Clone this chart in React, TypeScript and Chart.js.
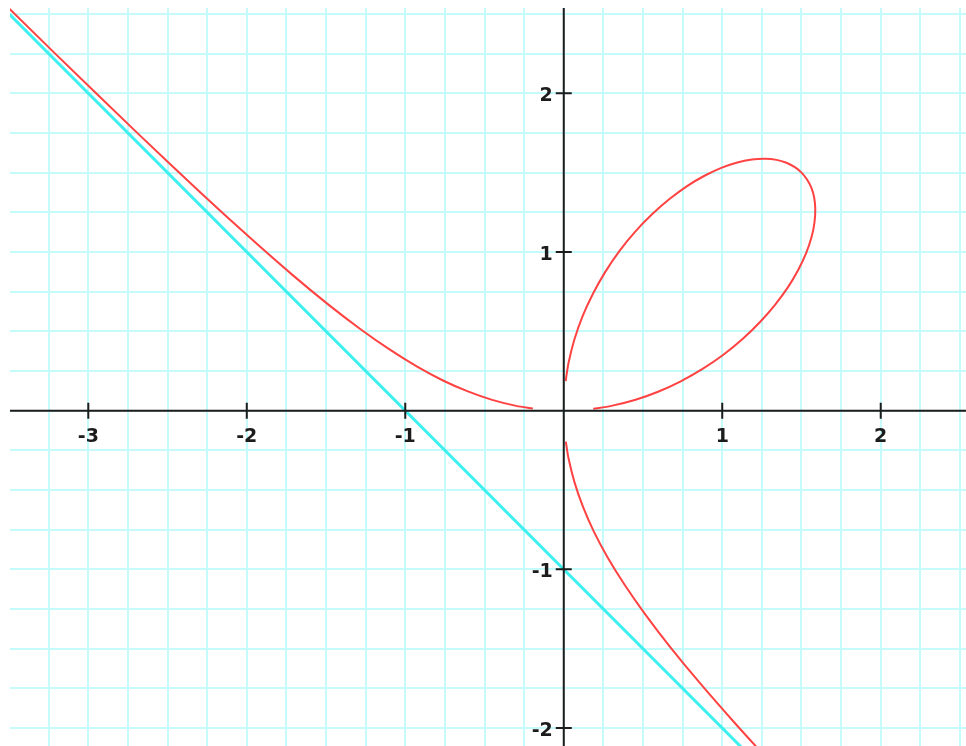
import { useEffect, useRef } from 'react';
import { Chart, registerables } from 'chart.js';

Chart.register(...registerables);

// Folium of Descartes  x³ + y³ = 3xy, sampled along its three visible pieces.
// Upper-left branch, from near the origin out to the top-left corner.
const leftBranchX = [-0.195, -0.3, -0.452, -0.605, -0.762, -0.925, -1.097, -1.282, -1.485, -1.714, -1.979, -2.296, -2.688, -3.196, -3.892];
const leftBranchY = [0.013, 0.03, 0.068, 0.121, 0.19, 0.277, 0.384, 0.513, 0.668, 0.857, 1.089, 1.378, 1.747, 2.237, 2.919];

// The closed loop in the first quadrant.
const loopX = [0.186, 0.3, 0.448, 0.595, 0.738, 0.876, 1.007, 1.128, 1.237, 1.333, 1.415, 1.48, 1.53, 1.564, 1.582, 1.587, 1.58, 1.562, 1.534, 1.5, 1.458, 1.405, 1.343, 1.27, 1.187, 1.095, 0.994, 0.888, 0.778, 0.667, 0.557, 0.451, 0.352, 0.263, 0.185, 0.119, 0.067, 0.03, 0.012];
const loopY = [0.012, 0.03, 0.067, 0.119, 0.185, 0.263, 0.352, 0.451, 0.557, 0.667, 0.778, 0.888, 0.994, 1.095, 1.187, 1.27, 1.343, 1.405, 1.458, 1.5, 1.534, 1.562, 1.58, 1.587, 1.582, 1.564, 1.53, 1.48, 1.415, 1.333, 1.237, 1.128, 1.007, 0.876, 0.738, 0.595, 0.448, 0.3, 0.186];

// Lower-right branch, from near the origin down past the bottom edge.
const lowerBranchX = [0.013, 0.03, 0.068, 0.121, 0.19, 0.277, 0.384, 0.513, 0.668, 0.857, 1.089, 1.378];
const lowerBranchY = [-0.195, -0.3, -0.452, -0.605, -0.762, -0.925, -1.097, -1.282, -1.485, -1.714, -1.979, -2.296];

// Asymptote  x + y + 1 = 0.
const asymptoteX = [-3.7, 1.4];
const asymptoteY = [2.7, -2.4];

// Labelled integer ticks on the crossing axes.
const xTickValues = [-3, -2, -1, 1, 2];
const yTickValues = [2, 1, -1, -2];

// Spacing of the background grid.
const gridStep = 0.25;

const zip = (xs: number[], ys: number[]) => xs.map((x, i) => ({ x, y: ys[i] }));

const INK = '#1c1c1c';

const crossAxesPlugin = {
  id: 'crossAxes',
  afterDatasetsDraw(chart: any) {
    const { ctx, chartArea: area, scales } = chart;
    const sx = scales.x;
    const sy = scales.y;
    const x0 = sx.getPixelForValue(0);
    const y0 = sy.getPixelForValue(0);
    ctx.save();
    ctx.strokeStyle = INK;
    ctx.lineWidth = 2;
    ctx.beginPath();
    ctx.moveTo(area.left, y0);
    ctx.lineTo(area.right, y0);
    ctx.moveTo(x0, area.top);
    ctx.lineTo(x0, area.bottom);
    xTickValues.forEach((v) => {
      const px = sx.getPixelForValue(v);
      ctx.moveTo(px, y0 - 8);
      ctx.lineTo(px, y0 + 8);
    });
    yTickValues.forEach((v) => {
      const py = sy.getPixelForValue(v);
      ctx.moveTo(x0 - 8, py);
      ctx.lineTo(x0 + 8, py);
    });
    ctx.stroke();

    ctx.fillStyle = INK;
    ctx.font = 'bold 19px "DejaVu Sans", Arial, sans-serif';
    ctx.textBaseline = 'alphabetic';
    ctx.textAlign = 'center';
    xTickValues.forEach((v) => {
      ctx.fillText(String(v), sx.getPixelForValue(v), y0 + 31);
    });
    ctx.textAlign = 'right';
    yTickValues.forEach((v) => {
      ctx.fillText(String(v), x0 - 11, sy.getPixelForValue(v) + 8);
    });
    ctx.restore();
  },
};

export default function App() {
  const canvasRef = useRef<HTMLCanvasElement | null>(null);

  useEffect(() => {
    const canvas = canvasRef.current;
    if (!canvas) return;

    const curveStyle = {
      borderColor: '#ff4242',
      borderWidth: 2,
      pointRadius: 0,
      showLine: true,
      tension: 0.3,
      fill: false,
    };

    const gridOptions = {
      color: '#c6fbfb',
      lineWidth: 2,
      drawTicks: false,
    };

    const chart = new Chart(canvas, {
      type: 'scatter',
      data: {
        datasets: [
          { ...curveStyle, data: zip(leftBranchX, leftBranchY) },
          { ...curveStyle, data: zip(loopX, loopY) },
          { ...curveStyle, data: zip(lowerBranchX, lowerBranchY) },
          {
            data: zip(asymptoteX, asymptoteY),
            borderColor: '#3ff0f0',
            borderWidth: 3,
            pointRadius: 0,
            showLine: true,
            tension: 0,
            fill: false,
          },
        ],
      },
      options: {
        animation: false,
        responsive: false,
        maintainAspectRatio: false,
        devicePixelRatio: 1,
        layout: { padding: { left: 10, top: 8, right: 0, bottom: 0 } },
        plugins: {
          legend: { display: false },
          tooltip: { enabled: false },
        },
        events: [],
        scales: {
          x: {
            type: 'linear',
            min: -3.494,
            max: 2.538,
            grid: gridOptions,
            border: { display: false },
            ticks: { display: false, stepSize: gridStep, includeBounds: false },
          },
          y: {
            type: 'linear',
            min: -2.113,
            max: 2.537,
            grid: gridOptions,
            border: { display: false },
            ticks: { display: false, stepSize: gridStep, includeBounds: false },
          },
        },
      },
      plugins: [crossAxesPlugin],
    });

    return () => chart.destroy();
  }, []);

  return (
    <div
      style={{
        position: 'fixed',
        left: 0,
        top: 0,
        width: 966,
        height: 746,
        background: '#ffffff',
      }}
    >
      <canvas ref={canvasRef} width={966} height={746} />
    </div>
  );
}
